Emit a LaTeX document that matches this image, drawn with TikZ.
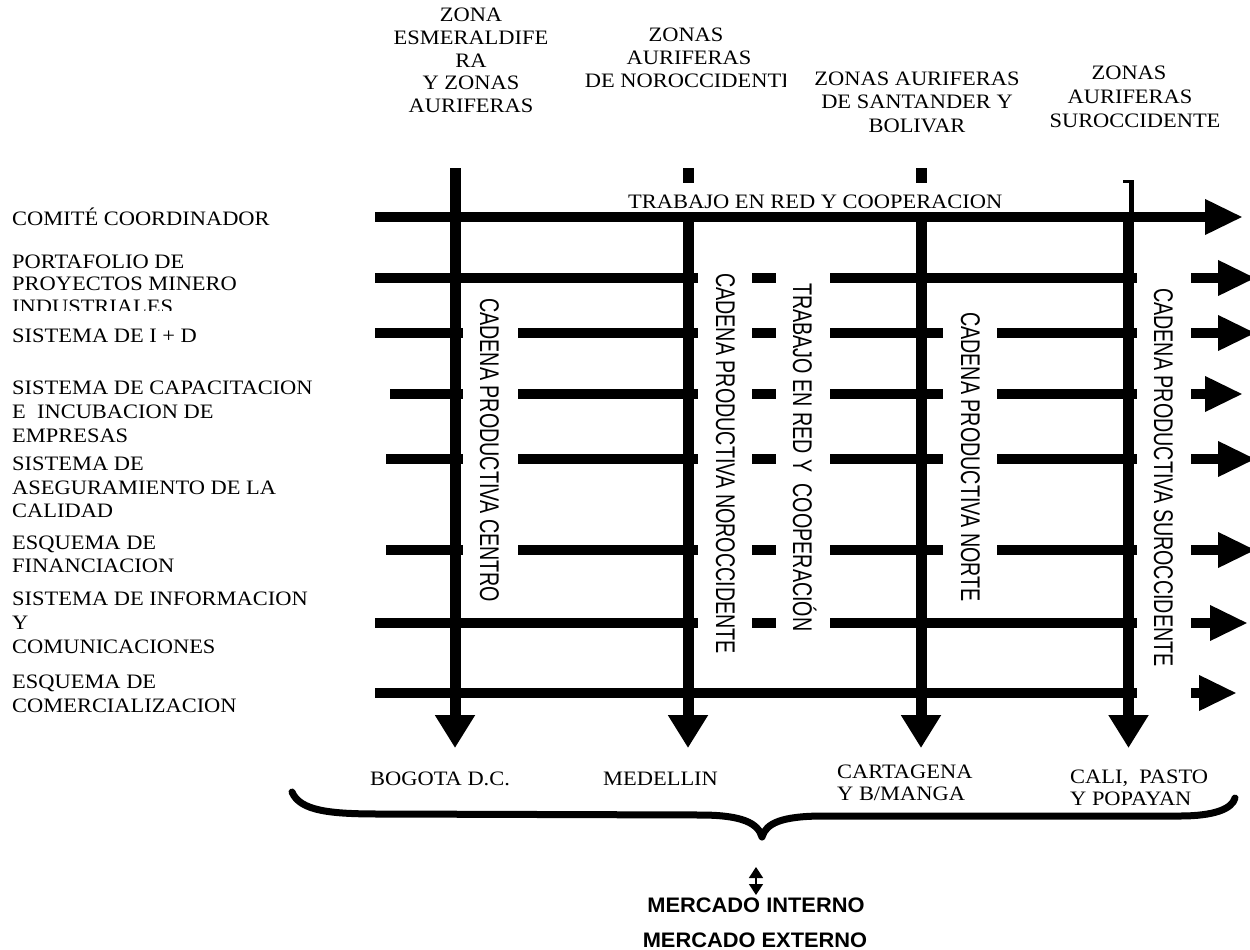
\documentclass[tikz,border=0pt]{standalone}
\usepackage{fontspec}
\setmainfont{Liberation Serif}
\newfontfamily\serifw[FakeStretch=1.095]{Liberation Serif}
\newfontfamily\condsans[FakeStretch=0.73]{Liberation Sans}
\newfontfamily\widesans[FakeStretch=1.04]{Liberation Sans}
\usetikzlibrary{arrows.meta}
\begin{document}
\begin{tikzpicture}[x=1pt,y=-1pt,
  txt/.style={font=\serifw\fontsize{20.5}{24}\selectfont, inner sep=0pt},
  lbl/.style={txt, anchor=base west},
  hdr/.style={txt, anchor=base},
  vlab/.style={font=\condsans\fontsize{27}{30}\selectfont, inner sep=0pt, rotate=-90, anchor=base west},
  mkt/.style={font=\widesans\bfseries\fontsize{21}{24}\selectfont, inner sep=0pt, anchor=base},
  bar/.style={line width=10pt},
  vbar/.style={line width=11pt},
  rarrow/.style={line width=10pt, -{Triangle[length=38pt,width=33pt]}},
  darrow/.style={line width=11pt, -{Triangle[length=33pt,width=38pt]}},
  brace/.style={line width=7pt, line cap=round, line join=round},
  dbl/.style={line width=1.5pt, {Triangle[length=11pt,width=14pt]}-{Triangle[length=11pt,width=14pt]}}
]
\useasboundingbox (0,0) rectangle (1250,950);

% ---------- headers ----------
\node[hdr] (h1a) at (471,22) {ZONA};
\node[hdr] (h1b) at (471,44.5) {ESMERALDIFE};
\node[hdr] (h1c) at (471,67) {RA};
\node[hdr] (h1d) at (471,89.5) {Y ZONAS};
\node[hdr] (h1e) at (471,112) {AURIFERAS};

\node[hdr] (h2a) at (686,42) {ZONAS};
\node[hdr] (h2b) at (689,65) {AURIFERAS};
\begin{scope}
  \clip (560,0) rectangle (785,150);
  \node[hdr] (h2c) at (690,88) {DE NOROCCIDENTE};
\end{scope}

\node[hdr] (h3a) at (917,85) {ZONAS AURIFERAS};
\node[hdr] (h3b) at (917,108) {DE SANTANDER Y};
\node[hdr] (h3c) at (917,132) {BOLIVAR};

\node[hdr] (h4a) at (1129,80) {ZONAS};
\node[hdr] (h4b) at (1130,103) {AURIFERAS};
\node[hdr] (h4c) at (1135,127) {SUROCCIDENTE};

% ---------- left labels ----------
\foreach \yy/\txtx [count=\i] in {
  225.6/COMITÉ COORDINADOR,
  268/PORTAFOLIO DE,
  290/PROYECTOS MINERO,
  342/SISTEMA DE I + D,
  394/SISTEMA DE CAPACITACION,
  418/E\ \ INCUBACION DE,
  442/EMPRESAS,
  470/SISTEMA DE,
  494/ASEGURAMIENTO DE LA,
  517/CALIDAD,
  549.5/ESQUEMA DE,
  572/FINANCIACION,
  605/SISTEMA DE INFORMACION,
  629/Y,
  653/COMUNICACIONES,
  688/ESQUEMA DE,
  712/COMERCIALIZACION}
  { \node[lbl] (L\i) at (12,\yy) {\txtx}; }
\begin{scope}
  \clip (0,290) rectangle (400,310.5);
  \node[lbl] (Lind) at (12,313.5) {INDUSTRIALES};
\end{scope}

% ---------- vertical bars ----------
\coordinate (v1t) at (455,168);   \coordinate (v1b) at (455,748);
\coordinate (v2t) at (688,212);   \coordinate (v2b) at (688,748);
\coordinate (v3t) at (921,212);   \coordinate (v3b) at (921,748);
\coordinate (v4t) at (1128.5,212);\coordinate (v4b) at (1128.5,748);
\draw[darrow] (v1t) -- (v1b);
\draw[darrow] (v2t) -- (v2b);
\draw[darrow] (v3t) -- (v3b);
\draw[darrow] (v4t) -- (v4b);
\draw[vbar] (688,168) -- (688,183);
\draw[vbar] (921,168) -- (921,183);
\draw[line width=5pt] (1131.5,180) -- (1131.5,214);
\draw[line width=3pt] (1123,181.5) -- (1134,181.5);

% ---------- top text ----------
\node[txt, anchor=base west] (trab) at (628,208) {TRABAJO EN RED Y COOPERACION};

% ---------- horizontal bars ----------
\draw[rarrow] (375,217) -- (1243,217);
\foreach \yy in {278,623} {
  \draw[bar] (375,\yy) -- (698,\yy);
  \draw[bar] (752,\yy) -- (776,\yy);
  \draw[bar] (830,\yy) -- (1137,\yy);
}
\foreach \yy/\xs in {333/375, 394/390, 459/386, 550/386} {
  \draw[bar] (\xs,\yy) -- (463,\yy);
  \draw[bar] (518,\yy) -- (698,\yy);
  \draw[bar] (752,\yy) -- (776,\yy);
  \draw[bar] (830,\yy) -- (943,\yy);
  \draw[bar] (997,\yy) -- (1137,\yy);
}
\draw[bar] (375,693) -- (1137,693);

% ---------- right arrows ----------
\foreach \yy/\tip in {278/1256, 333/1256, 394/1243, 459/1256, 550/1256, 623/1248, 693/1237}
  { \draw[rarrow] (1191,\yy) -- (\tip,\yy); }

% ---------- vertical labels ----------
\node[vlab] (cc)  at (480,298)  {CADENA PRODUCTIVA CENTRO};
\node[vlab] (cno) at (716,273)  {CADENA PRODUCTIVA NOROCCIDENTE};
\node[vlab] (trv) at (793,283)  {TRABAJO EN RED Y\ \ COOPERACIÓN};
\node[vlab] (cn)  at (961,312)  {CADENA PRODUCTIVA NORTE};
\node[vlab] (cs)  at (1154,288) {CADENA PRODUCTIVA SUROCCIDENTE};

% ---------- cities ----------
\node[lbl] (bog) at (370,785) {BOGOTA D.C.};
\node[lbl] (med) at (603,785) {MEDELLIN};
\node[lbl] (car1) at (837,778) {CARTAGENA};
\node[lbl] (car2) at (837,800) {Y B/MANGA};
\node[lbl] (cal1) at (1070,783) {CALI,\ \ PASTO};
\node[lbl] (cal2) at (1070,805) {Y POPAYAN};

% ---------- brace ----------
\coordinate (brl) at (292,792);
\coordinate (brt) at (762,837);
\coordinate (brr) at (1235,798);
\draw[brace] (brl) .. controls (300,811) and (330,814) .. (380,814)
  -- (700,815) .. controls (742,815) and (758,823) .. (brt)
  .. controls (766,823) and (782,816) .. (824,816)
  -- (1180,816) .. controls (1214,816) and (1232,809) .. (brr);

% ---------- markets ----------
\node[mkt] (mi) at (756,912) {MERCADO INTERNO};
\node[mkt] (me) at (755,947) {MERCADO EXTERNO};
\coordinate (dt) at (756,867);
\coordinate (db) at (756,895);
\draw[dbl] (dt) -- (db);
\end{tikzpicture}
\end{document}
